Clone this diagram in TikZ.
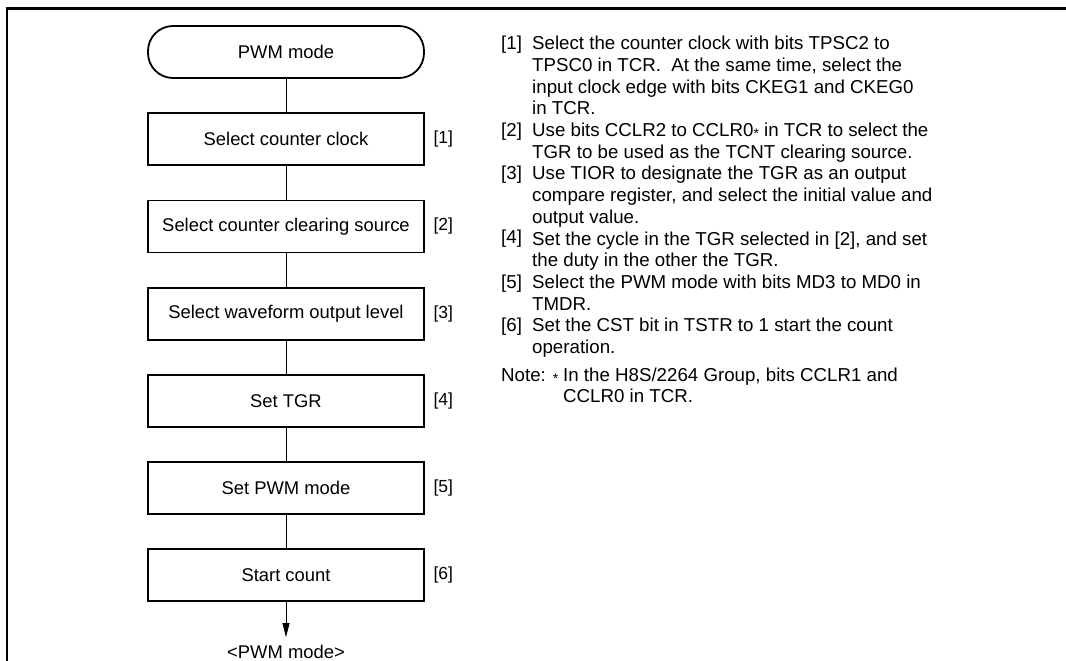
\documentclass[tikz,border=0pt]{standalone}
\usepackage{fontspec}
\setmainfont{Liberation Sans}
\usetikzlibrary{arrows.meta, positioning}
\newcommand{\smallstar}{\raisebox{-2pt}{\fontsize{14}{14}\selectfont *}}
\tikzset{
  stepbox/.style={rectangle, draw=black, line width=1.8pt, fill=white,
                  minimum width=276pt, minimum height=52pt, inner sep=0pt,
                  font=\fontsize{18.4}{22}\selectfont, align=center},
  termbox/.style={stepbox, rounded corners=25pt},
  tag/.style={inner sep=0pt, font=\fontsize{17.5}{21}\selectfont},
  link/.style={line width=0.8pt},
  arr/.style={link, -{Triangle[length=14pt, width=7pt]}},
  notes/.style={inner sep=0pt, anchor=base west,
                font=\fontsize{18.7}{21.65}\selectfont, align=left},
  frame/.style={line width=2.2pt},
}
\begin{document}
\begin{tikzpicture}[x=1pt, y=-1pt, node distance=33.4pt]
  \useasboundingbox (0,0) rectangle (1066,661);
  \draw[frame] (7,661) -- (7,8.5) -- (1066,8.5);

  % flow chart
  \node[termbox] (start) at (286,52) {PWM mode};
  \node[stepbox, below=of start] (clk) {Select counter clock};
  \node[stepbox, below=of clk] (clr) {Select counter clearing source};
  \node[stepbox, below=of clr] (wave) {Select waveform output level};
  \node[stepbox, below=of wave] (tgr) {Set TGR};
  \node[stepbox, below=of tgr] (pwm) {Set PWM mode};
  \node[stepbox, below=of pwm] (cnt) {Start count};
  \node[tag, font=\fontsize{18.4}{22}\selectfont, inner ysep=8pt,
        below=35pt of cnt] (done) {<PWM mode>};

  \node[tag, right=8.5pt of clk] (t1) {[1]};
  \node[tag, right=8.5pt of clr] (t2) {[2]};
  \node[tag, right=8.5pt of wave] (t3) {[3]};
  \node[tag, right=8.5pt of tgr] (t4) {[4]};
  \node[tag, right=8.5pt of pwm] (t5) {[5]};
  \node[tag, right=8.5pt of cnt] (t6) {[6]};

  \foreach \a/\b in {start/clk, clk/clr, clr/wave, wave/tgr, tgr/pwm, pwm/cnt}
    \draw[link] (\a) -- (\b);
  \draw[arr] (cnt) -- (done);

  % explanations
  \node[notes] (steps) at (501,50) {\begin{tabular}[t]{@{}p{31pt}@{}l@{}}
    {[1]} & Select the counter clock with bits TPSC2 to\\
    & TPSC0 in TCR.\ \ At the same time, select the\\
    & input clock edge with bits CKEG1 and CKEG0\\
    & in TCR.\\
    {[2]} & Use bits CCLR2 to CCLR0\smallstar{} in TCR to select the\\
    & TGR to be used as the TCNT clearing source.\\
    {[3]} & Use TIOR to designate the TGR as an output\\
    & compare register, and select the initial value and\\
    & output value.\\
    {\raisebox{2pt}{[4]}} & Set the cycle in the TGR selected in [2], and set\\
    & the duty in the other the TGR.\\
    {[5]} & Select the PWM mode with bits MD3 to MD0 in\\
    & TMDR.\\
    {[6]} & Set the CST bit in TSTR to 1 start the count\\
    & operation.
  \end{tabular}};
  \node[notes] (note) at (501,381) {\begin{tabular}[t]{@{}p{62pt}@{}l@{}}
    Note:\hfill\smallstar\hspace{5pt} & In the H8S/2264 Group, bits CCLR1 and\\
    & CCLR0 in TCR.
  \end{tabular}};
\end{tikzpicture}
\end{document}
